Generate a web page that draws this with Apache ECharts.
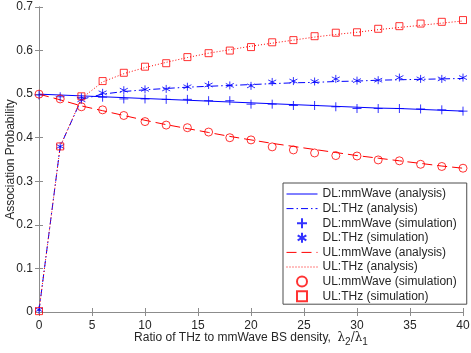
<!DOCTYPE html>
<html>
<head>
<meta charset="utf-8">
<script src="https://cdn.jsdelivr.net/npm/echarts@6/dist/echarts.min.js"></script>
<style>
html, body { margin: 0; padding: 0; background: #fff; }
#chart { width: 471px; height: 353px; }
</style>
</head>
<body>
<div id="chart"></div>
<script>
// density ratio lambda2/lambda1
const ratios = [0, 2, 4, 6, 8, 10, 12, 14, 16, 18, 20, 22, 24, 26, 28, 30, 32, 34, 36, 38, 40];

// analysis curves
const dlMmAna  = [0.500, 0.498, 0.496, 0.494, 0.492, 0.490, 0.488, 0.486, 0.484, 0.482, 0.480, 0.478, 0.476, 0.474, 0.472, 0.470, 0.468, 0.467, 0.465, 0.463, 0.461];
const dlThzAna = [0.003, 0.380, 0.488, 0.500, 0.506, 0.510, 0.513, 0.516, 0.518, 0.520, 0.522, 0.524, 0.526, 0.527, 0.529, 0.530, 0.532, 0.533, 0.534, 0.535, 0.536];
const ulMmAna  = [0.500, 0.487, 0.473, 0.462, 0.451, 0.440, 0.430, 0.421, 0.412, 0.403, 0.395, 0.387, 0.380, 0.373, 0.366, 0.359, 0.353, 0.347, 0.341, 0.335, 0.330];
const ulThzAna = [0.003, 0.380, 0.490, 0.528, 0.547, 0.561, 0.573, 0.584, 0.594, 0.602, 0.610, 0.617, 0.624, 0.631, 0.637, 0.642, 0.648, 0.653, 0.658, 0.663, 0.668];

// simulation points
const dlMmSim  = [0.498, 0.494, 0.492, 0.493, 0.489, 0.489, 0.488, 0.488, 0.485, 0.485, 0.477, 0.477, 0.474, 0.474, 0.471, 0.467, 0.467, 0.467, 0.466, 0.464, 0.461];
const dlThzSim = [0.005, 0.380, 0.487, 0.503, 0.509, 0.511, 0.512, 0.517, 0.521, 0.520, 0.519, 0.528, 0.530, 0.529, 0.535, 0.531, 0.532, 0.538, 0.535, 0.535, 0.538];
const ulMmSim  = [0.500, 0.489, 0.471, 0.464, 0.451, 0.437, 0.429, 0.423, 0.413, 0.400, 0.395, 0.379, 0.372, 0.365, 0.359, 0.358, 0.349, 0.347, 0.339, 0.334, 0.330];
const ulThzSim = [0.002, 0.380, 0.495, 0.530, 0.549, 0.563, 0.571, 0.585, 0.594, 0.600, 0.608, 0.619, 0.624, 0.633, 0.641, 0.642, 0.650, 0.656, 0.662, 0.666, 0.670];

const BLUE = '#0000ff';
const RED = '#ff0000';
const AXIS = '#8c8c8c';
const TEXT = '#262626';

const DASHDOT = [7, 3, 1.5, 3];
const DASHED = [10, 5];
const DOTTED = [1, 2];

const plusPath = 'path://M5,0L5,10M0,5L10,5';
const starPath = 'path://M5,0L5,10M0.67,2.5L9.33,7.5M0.67,7.5L9.33,2.5';
const squarePath = 'path://M0,0L10,0L10,10L0,10Z';

function pairs(ys) {
  return ratios.map((x, i) => [x, ys[i]]);
}

function anaSeries(name, ys, color, type) {
  return {
    name: name,
    type: 'line',
    data: pairs(ys),
    symbol: 'none',
    showSymbol: false,
    lineStyle: { color: color, width: 1, type: type },
    itemStyle: { color: color },
    animation: false,
    z: 2
  };
}

function simSeries(name, ys, color, symbol, size) {
  return {
    name: name,
    type: 'scatter',
    data: pairs(ys),
    symbol: symbol,
    symbolSize: size,
    itemStyle: { color: 'rgba(0,0,0,0)', borderColor: color, borderWidth: 1 },
    animation: false,
    z: 3
  };
}

// legend entries: analysis ones show only the line
function lineItem(name, color, type) {
  return {
    name: name,
    itemStyle: { opacity: 0 },
    lineStyle: { color: color, width: 1, type: type, opacity: 1 }
  };
}

const chart = echarts.init(document.getElementById('chart'));

const axisCommon = {
  axisLine: { show: true, lineStyle: { color: AXIS } },
  axisTick: { show: true, inside: true, length: 4, lineStyle: { color: AXIS } },
  splitLine: { show: false }
};

const option = {
  backgroundColor: '#fff',
  textStyle: { fontFamily: 'Liberation Sans, Arial, sans-serif' },
  grid: { left: 39, right: 8, top: 7, bottom: 41, outerBoundsMode: 'none', containLabel: false },
  xAxis: [
    Object.assign({
      type: 'value', min: 0, max: 40, interval: 5,
      axisLabel: { color: TEXT, fontSize: 12, margin: 8 },
      name: 'Ratio of THz to mmWave BS density,  {i|λ}{s|2}{i|/λ}{s|1}',
      nameLocation: 'middle',
      nameGap: 16,
      nameMoveOverlap: false,
      nameTextStyle: {
        color: TEXT, fontSize: 12,
        rich: {
          i: { fontSize: 12, fontFamily: 'DejaVu Serif', color: TEXT },
          s: { fontSize: 10, color: TEXT, padding: [9, 0, 0, 0] }
        }
      }
    }, axisCommon),
    Object.assign({
      type: 'value', min: 0, max: 40, interval: 5, position: 'top',
      axisLabel: { show: false }
    }, axisCommon)
  ],
  yAxis: [
    Object.assign({
      type: 'value', min: 0, max: 0.7, interval: 0.1,
      axisLabel: {
        color: TEXT, fontSize: 12, margin: 6,
        formatter: v => {
          const r = Math.round(v * 10) / 10;
          return r === 0 ? '0' : r.toFixed(1);
        }
      },
      name: 'Association Probability',
      nameLocation: 'middle',
      nameGap: 22,
      nameMoveOverlap: false,
      nameTextStyle: { color: TEXT, fontSize: 12 }
    }, axisCommon),
    Object.assign({
      type: 'value', min: 0, max: 0.7, interval: 0.1, position: 'right',
      axisLabel: { show: false }
    }, axisCommon)
  ],
  legend: {
    orient: 'vertical',
    left: 283,
    top: 183,
    itemWidth: 31,
    itemHeight: 10,
    itemGap: 2.6,
    padding: [5, 10, 2, 3],
    borderColor: '#4d4d4d',
    borderWidth: 1,
    backgroundColor: '#fff',
    textStyle: { color: TEXT, fontSize: 12 },
    data: [
      lineItem('DL:mmWave (analysis)', BLUE, 'solid'),
      lineItem('DL:THz (analysis)', BLUE, DASHDOT),
      { name: 'DL:mmWave (simulation)' },
      { name: 'DL:THz (simulation)' },
      lineItem('UL:mmWave (analysis)', RED, DASHED),
      lineItem('UL:THz (analysis)', RED, DOTTED),
      { name: 'UL:mmWave (simulation)' },
      { name: 'UL:THz (simulation)', icon: squarePath }
    ]
  },
  series: [
    anaSeries('DL:mmWave (analysis)', dlMmAna, BLUE, 'solid'),
    anaSeries('DL:THz (analysis)', dlThzAna, BLUE, DASHDOT),
    simSeries('DL:mmWave (simulation)', dlMmSim, BLUE, plusPath, 9),
    simSeries('DL:THz (simulation)', dlThzSim, BLUE, starPath, 8),
    anaSeries('UL:mmWave (analysis)', ulMmAna, RED, DASHED),
    anaSeries('UL:THz (analysis)', ulThzAna, RED, DOTTED),
    simSeries('UL:mmWave (simulation)', ulMmSim, RED, 'circle', 8),
    simSeries('UL:THz (simulation)', ulThzSim, RED, 'rect', 7)
  ]
};

chart.setOption(option);
</script>
</body>
</html>
